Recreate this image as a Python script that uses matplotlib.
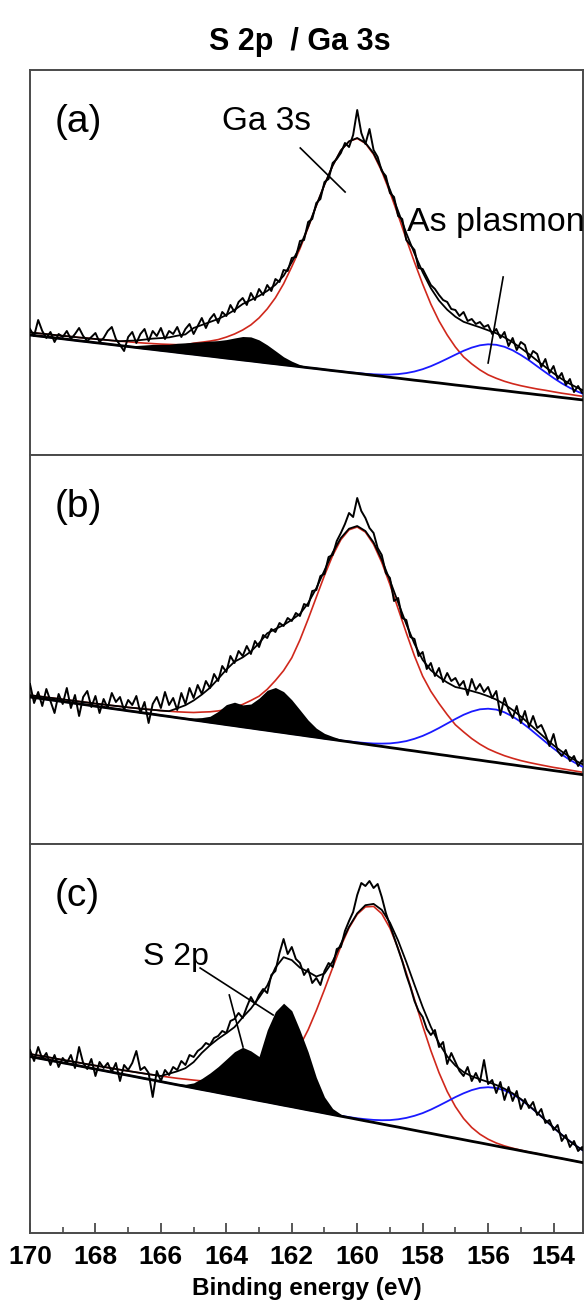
import numpy as np
import matplotlib.pyplot as plt
from matplotlib.ticker import MultipleLocator

# binding energy grids (eV): fit curves every 0.25 eV, raw spectrum every 0.125 eV
energy_fit = np.linspace(170, 153, 69)
energy_raw = np.linspace(170, 153, 137)

# ---- panel (a) ----
bg_a = [120.0, 119.0, 118.1, 117.1, 116.2, 115.2, 114.2, 113.3, 112.3, 111.4,
        110.4, 109.4, 108.5, 107.5, 106.5, 105.6, 104.6, 103.7, 102.7, 101.7,
        100.8, 99.8, 98.9, 97.9, 96.9, 96.0, 95.0, 94.1, 93.1, 92.1,
        91.2, 90.2, 89.3, 88.3, 87.3, 86.4, 85.4, 84.4, 83.5, 82.5,
        81.6, 80.6, 79.6, 78.7, 77.7, 76.8, 75.8, 74.8, 73.9, 72.9,
        72.0, 71.0, 70.0, 69.1, 68.1, 67.1, 66.2, 65.2, 64.3, 63.3,
        62.3, 61.4, 60.4, 59.5, 58.5, 57.5, 56.6, 55.6, 54.7]
ga3s_a = [2.6, 2.7, 2.8, 2.9, 3.0, 3.2, 3.3, 3.5, 3.7, 3.9,
          4.1, 4.4, 4.7, 5.0, 5.4, 5.8, 6.3, 6.9, 7.6, 8.4,
          11, 13, 15, 17.5, 21, 25, 30, 36, 44, 54,
          66, 81, 99, 118, 140, 163, 185, 205, 221, 231,
          235, 231, 221, 205, 185, 163, 140, 118, 97, 78,
          62, 49, 38, 29, 23, 18, 14, 11.5, 9.4, 8.0,
          7.0, 6.2, 5.6, 5.2, 4.7, 4.3, 4.0, 3.7, 3.5]
plasmon_a = [0.0] * 38 + [0.1, 0.2, 0.4, 0.6, 1.1, 1.7, 2.7, 4.1, 6.1, 8.7,
                          11.9, 15.9, 20.4, 25.3, 30.3, 35.1, 39.3, 42.6, 44.5, 45.0,
                          43.9, 41.4, 37.7, 33.3, 28.3, 23.3, 18.5, 14.2, 10.5, 7.6, 5.2]
s2p_a = [0.0] * 12 + [1, 2, 3.5, 5, 6, 7, 9, 10.5, 12, 13.5, 15, 16.5,
                      18.5, 21, 23.5, 24, 22, 18, 13, 8, 4.5, 2, 0.8, 0.2] + [0.0] * 33
fit_a = [122.6, 121.7, 120.9, 120.0, 119.2, 118.4, 117.5, 116.8, 116.0, 115.3,
         114.5, 113.8, 114.2, 114.5, 115.4, 116.4, 116.9, 117.6, 119.3, 120.6,
         127.0, 130.0, 133.0, 136.0, 140.0, 145.0, 151.0, 155.0, 159.1, 164.1,
         170.2, 179.2, 192.8, 208.3, 228.1, 249.6, 270.4, 289.4, 304.6, 313.7,
         317.0, 312.2, 301.7, 285.4, 265.4, 243.9, 221.9, 201.5, 182.8, 166.8,
         154.4, 145.3, 138.3, 133.2, 130.4, 127.7, 124.7, 121.7, 117.6, 112.7,
         107.0, 100.9, 94.3, 88.0, 81.7, 76.0, 71.1, 66.9, 63.4]
raw_a = [126, 119, 135, 124, 117, 123, 113, 121, 118, 124,
         116, 121, 127, 119, 114, 118, 122, 113, 117, 124,
         128, 116, 110, 104, 118, 123, 112, 121, 126, 114,
         124, 119, 127, 116, 124, 121, 128, 118, 126, 131,
         121, 129, 137, 127, 136, 141, 132, 143, 139, 150,
         143, 153, 157, 150, 162, 155, 166, 160, 170, 164,
         176, 173, 185, 184, 197, 198, 214, 215, 233, 236,
         252, 256, 273, 276, 292, 296, 302, 312, 308, 320,
         345, 322, 311, 326, 305, 298, 284, 279, 262, 258,
         239, 236, 215, 210, 205, 187, 186, 178, 170, 166,
         160, 155, 153, 146, 145, 139, 143, 134, 136, 131,
         133, 128, 130, 121, 126, 117, 123, 109, 117, 105,
         113, 110, 96, 104, 101, 88, 96, 82, 89, 76,
         82, 70, 76, 63, 69, 62, 64]

# ---- panel (b) ----
bg_b = [147.0, 145.9, 144.7, 143.6, 142.4, 141.3, 140.1, 139.0, 137.8, 136.7,
        135.5, 134.4, 133.2, 132.1, 130.9, 129.8, 128.6, 127.5, 126.3, 125.2,
        124.0, 122.9, 121.7, 120.6, 119.4, 118.3, 117.1, 116.0, 114.8, 113.7,
        112.5, 111.4, 110.2, 109.1, 107.9, 106.8, 105.6, 104.5, 103.3, 102.2,
        101.0, 99.9, 98.7, 97.6, 96.4, 95.3, 94.1, 93.0, 91.8, 90.7,
        89.5, 88.4, 87.2, 86.1, 84.9, 83.8, 82.6, 81.5, 80.3, 79.2,
        78.0, 76.9, 75.7, 74.6, 73.4, 72.3, 71.1, 70.0, 68.8]
ga3s_b = [1.8, 1.9, 2.0, 2.1, 2.2, 2.3, 2.4, 2.5, 2.6, 2.8,
          3.0, 3.2, 3.4, 3.7, 4.0, 4.4, 4.8, 5.3, 5.9, 6.6,
          7.5, 9.0, 10.5, 12.5, 15, 18.5, 22.5, 27.5, 33, 41,
          51, 62, 76, 95, 117, 140, 163, 184, 201, 212,
          216, 212, 201, 184, 163, 140, 117, 95, 76, 62,
          51, 41, 32, 26, 20.5, 16, 12.5, 10, 8, 6.5,
          5.4, 4.6, 4.1, 3.6, 3.2, 3.0, 2.8, 2.5, 2.4]
plasmon_b = [0.0] * 38 + [0.2, 0.4, 0.7, 1.1, 1.8, 2.8, 4.2, 6.2, 8.8, 12.2,
                          16.3, 21.1, 26.5, 32.1, 37.8, 43.1, 47.6, 50.9, 52.7, 52.9,
                          51.4, 48.3, 44.1, 38.9, 33.3, 27.6, 22.1, 17.2, 13.0, 9.5, 6.7]
s2p_b = [0.0] * 18 + [0.5, 1, 2, 3.5, 6, 12, 20, 23.5, 22, 24, 31, 40,
                      44, 41, 34, 25, 16, 9, 5, 3, 1.5, 0.7, 0.3] + [0.0] * 28
fit_b = [148.8, 147.8, 146.7, 145.7, 144.6, 143.6, 142.5, 141.5, 140.4, 139.5,
         138.5, 137.6, 136.6, 135.8, 134.9, 134.2, 133.4, 132.8, 135.7, 138.8,
         143.5, 149.4, 156.2, 165.1, 174.4, 182.3, 186.6, 192.5, 200.8, 210.7,
         215.0, 219.0, 224.2, 230.1, 240.9, 255.8, 273.6, 291.5, 306.0, 315.3,
         318.0, 313.0, 301.5, 284.4, 263.6, 241.5, 219.9, 200.2, 184.1, 173.8,
         167.0, 161.5, 157.0, 155.2, 153.0, 150.7, 147.8, 144.4, 139.7, 134.0,
         127.5, 120.4, 113.1, 105.8, 98.7, 92.5, 86.9, 82.0, 77.9]
raw_b = [160, 141, 152, 138, 155, 143, 131, 150, 140, 156,
         136, 149, 128, 147, 153, 137, 148, 131, 145, 136,
         151, 142, 147, 134, 144, 139, 148, 131, 142, 121,
         140, 147, 136, 152, 139, 146, 134, 151, 140, 156,
         146, 159, 150, 163, 156, 170, 163, 178, 172, 188,
         181, 193, 188, 198, 190, 203, 197, 209, 206, 215,
         212, 221, 218, 226, 223, 231, 228, 240, 238, 253,
         254, 268, 270, 287, 289, 303, 311, 320, 331, 327,
         346, 333, 326, 316, 311, 296, 289, 271, 266, 243,
         246, 226, 224, 207, 205, 188, 192, 175, 181, 168,
         176, 162, 171, 163, 166, 158, 163, 149, 165, 154,
         160, 152, 157, 146, 153, 129, 146, 134, 126, 138,
         121, 133, 117, 128, 116, 119, 110, 98, 110, 93,
         88, 94, 83, 88, 78, 84, 79]

# ---- panel (c) ----
bg_c = [176.5, 174.9, 173.4, 171.8, 170.2, 168.7, 167.1, 165.5, 163.9, 162.4,
        160.8, 159.2, 157.7, 156.1, 154.5, 153.0, 151.4, 149.8, 148.2, 146.7,
        145.1, 143.5, 142.0, 140.4, 138.8, 137.3, 135.7, 134.1, 132.5, 131.0,
        129.4, 127.8, 126.3, 124.7, 123.1, 121.6, 120.0, 118.4, 116.8, 115.3,
        113.7, 112.1, 110.6, 109.0, 107.4, 105.9, 104.3, 102.7, 101.1, 99.6,
        98.0, 96.4, 94.9, 93.3, 91.7, 90.2, 88.6, 87.0, 85.4, 83.9,
        82.3, 80.7, 79.2, 77.6, 76.0, 74.5, 72.9, 71.3, 69.7]
ga3s_c = [2.5, 2.6, 2.7, 2.8, 2.9, 3.0, 3.2, 3.3, 3.5, 3.7,
          3.9, 4.1, 4.3, 4.6, 4.9, 5.2, 5.6, 6.0, 6.5, 7.1,
          7.8, 8.6, 9.7, 10.8, 12, 13.6, 16, 18.3, 20.9, 24.4,
          30, 38, 48.6, 62.6, 80.1, 100.9, 123.5, 147, 169.9, 189.8,
          205, 214, 216, 210.3, 197.5, 178.7, 155.9, 131, 106.1, 82.8,
          62.3, 45.1, 31.5, 21.2, 13.8, 8.6, 5.2, 3.0, 1.7, 0.9,
          0.5, 0.2, 0.1, 0, 0, 0, 0, 0, 0]
plasmon_c = [0.0] * 37 + [0.2, 0.4, 0.6, 1.0, 1.7, 2.5, 3.8, 5.5, 7.8, 10.8,
                          14.5, 18.8, 23.8, 29.4, 35.2, 41.0, 46.4, 51.2, 54.9, 57.2,
                          58.0, 57.2, 54.9, 51.2, 46.4, 41.0, 35.2, 29.4, 23.8, 18.8,
                          14.5, 10.8]
s2p_c = [0.0] * 17 + [0.5, 1, 2, 5, 11, 18, 26, 35, 44, 50, 48, 44,
                      72, 92, 102, 96, 78, 58, 34, 16, 6, 2, 0.5] + [0.0] * 29
fit_c = [179.0, 177.5, 176.1, 174.6, 173.1, 171.7, 170.3, 168.8, 167.4, 166.1,
         164.7, 163.3, 162.0, 160.7, 159.4, 158.2, 157.0, 159.3, 161.7, 164.8,
         170.9, 180.1, 187.7, 194.2, 199.8, 205.9, 215.7, 224.4, 235.4, 247.4,
         265.4, 275.8, 272.9, 265.3, 261.2, 256.5, 259.5, 271.6, 289.1, 306.2,
         319.7, 327.8, 329.1, 323.1, 310.4, 292.4, 271.0, 248.2, 226.0, 206.2,
         189.7, 176.7, 167.4, 160.9, 156.7, 153.7, 151.0, 148.0, 144.3, 139.7,
         134.0, 127.3, 120.3, 112.8, 105.4, 98.3, 91.7, 85.8, 80.5]
raw_c = [183, 172, 186, 174, 180, 168, 178, 166, 175, 170,
         178, 165, 186, 170, 164, 174, 157, 171, 165, 170,
         161, 170, 152, 168, 163, 170, 182, 163, 166, 160,
         136, 162, 152, 163, 158, 166, 163, 172, 168, 178,
         176, 182, 185, 190, 188, 195, 197, 202, 200, 212,
         214, 220, 215, 226, 236, 229, 238, 244, 240, 258,
         262, 280, 294, 279, 286, 274, 270, 258, 264, 250,
         255, 248, 262, 270, 266, 284, 286, 302, 312, 321,
         338, 350, 347, 352, 345, 349, 336, 320, 308, 296,
         284, 272, 258, 246, 232, 222, 216, 204, 198, 203,
         186, 191, 169, 180, 171, 162, 157, 166, 152, 160,
         151, 173, 149, 153, 140, 151, 133, 146, 132, 142,
         124, 134, 125, 131, 118, 124, 110, 113, 103, 108,
         92, 98, 86, 92, 82, 86, 80]

panels = [
    ('(a)', bg_a, ga3s_a, plasmon_a, s2p_a, fit_a, raw_a),
    ('(b)', bg_b, ga3s_b, plasmon_b, s2p_b, fit_b, raw_b),
    ('(c)', bg_c, ga3s_c, plasmon_c, s2p_c, fit_c, raw_c),
]

RED = '#d0281c'
BLUE = '#1a1aff'
FONT = ['Liberation Sans', 'DejaVu Sans']

W, H = 585, 1300
fig = plt.figure(figsize=(W / 100, H / 100), dpi=100)
boxes = [(70, 455), (455, 844), (844, 1233)]  # pixel top / bottom of each panel

axes = []
for (label, bg, ga, pl, s2, fit, raw), (top, bot) in zip(panels, boxes):
    ax = fig.add_axes([30 / W, 1 - bot / H, 553 / W, (bot - top) / H])
    axes.append(ax)
    bg = np.array(bg)

    ax.plot(energy_fit, bg + np.array(ga), color=RED, lw=1.2, zorder=2)
    ax.plot(energy_fit, bg + np.array(pl), color=BLUE, lw=1.3, zorder=3)
    ax.fill_between(energy_fit, bg, bg + np.array(s2), color='black', lw=0, zorder=4)
    ax.plot(energy_fit, bg, color='black', lw=2.0, zorder=5)
    ax.plot(energy_fit, fit, color='black', lw=1.3, zorder=6)
    ax.plot(energy_raw, raw, color='black', lw=1.4, zorder=7)

    ax.set_xlim(170, 153.1)
    ax.set_ylim(0, bot - top)
    ax.set_yticks([])
    for sp in ax.spines.values():
        sp.set_color('#4a4a4a')
        sp.set_linewidth(1.4)
    ax.text(0.045, 1 - 52 / (bot - top), label, transform=ax.transAxes,
            fontsize=28, va='center', ha='left', family=FONT)

ax_a, ax_b, ax_c = axes
ax_a.set_xticks([])
ax_b.set_xticks([])

# annotations
ax_a.text(0.347, 0.865, 'Ga 3s', transform=ax_a.transAxes, fontsize=24,
          va='center', ha='left', family=FONT)
ax_a.plot([161.74, 160.37], [307, 263], color='black', lw=1.2, zorder=8)
ax_a.text(0.682, 0.603, 'As plasmon', transform=ax_a.transAxes, fontsize=24.5,
          va='center', ha='left', family=FONT)
ax_a.plot([155.54, 156.0], [178, 92], color='black', lw=1.2, zorder=8)
ax_c.text(0.204, 0.71, 'S 2p', transform=ax_c.transAxes, fontsize=23,
          va='center', ha='left', family=FONT)
ax_c.plot([164.8, 162.57], [265, 218], color='black', lw=1.2, zorder=8)
ax_c.plot([163.91, 163.49], [238, 186], color='black', lw=1.2, zorder=8)

# bottom axis
ax_c.xaxis.set_major_locator(MultipleLocator(2))
ax_c.xaxis.set_minor_locator(MultipleLocator(1))
ax_c.tick_params(axis='x', which='major', direction='in', length=7, width=1.3,
                 colors='#4a4a4a', labelcolor='black', pad=9)
ax_c.tick_params(axis='x', which='minor', direction='in', length=4, width=1.2,
                 colors='#4a4a4a')
for lbl in ax_c.get_xticklabels():
    lbl.set_family(['Liberation Sans Narrow', 'Liberation Sans'])
    lbl.set_fontweight('bold')
    lbl.set_fontsize(19)

fig.text(300 / W, 1 - 42 / H, 'S 2p  / Ga 3s', ha='center', va='center',
         fontsize=22, fontweight='bold', family=FONT)
fig.text(307 / W, 1 - 1289 / H, 'Binding energy (eV)', ha='center', va='center',
         fontsize=17.5, fontweight='bold', family=FONT)

fig.savefig('out.png', dpi=100)
